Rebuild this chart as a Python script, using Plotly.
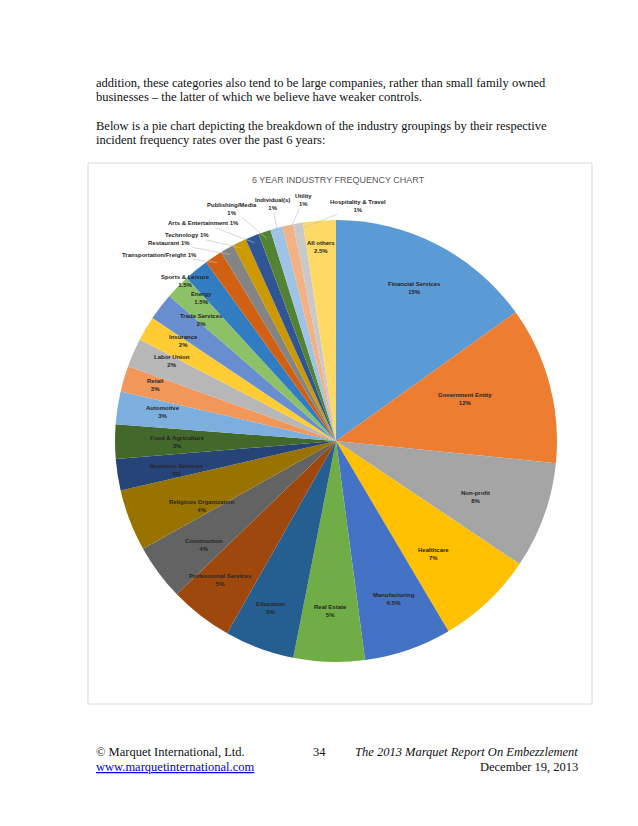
import math
import plotly.graph_objects as go

# ---------------- data ----------------
categories = [
    "Financial Services", "Government Entity", "Non-profit", "Healthcare",
    "Manufacturing", "Real Estate", "Education", "Professional Services",
    "Construction", "Religious Organization", "Business Services",
    "Food & Agriculture", "Automotive", "Retail", "Labor Union", "Insurance",
    "Trade Services", "Energy", "Sports & Leisure", "Transportation/Freight",
    "Restaurant", "Technology", "Arts & Entertainment", "Publishing/Media",
    "Individual(s)", "Utility", "Hospitality & Travel", "All others",
]
values = [
    15.1, 11.5, 7.8, 7.1, 6.4, 5.2, 5.1, 4.6, 4.1, 4.5,
    2.3, 2.5, 2.4, 1.9, 2.1, 1.8, 2.0, 1.8, 1.8, 1.3,
    1.0, 1.0, 1.0, 0.9, 0.9, 0.8, 0.7, 2.4,
]
pct_labels = [
    "15%", "12%", "8%", "7%", "6.5%", "5%", "5%", "5%", "4%", "4%",
    "3%", "3%", "3%", "3%", "2%", "2%", "2%", "1.5%", "1.5%", "1%",
    "1%", "1%", "1%", "1%", "1%", "1%", "1%", "2.5%",
]

# ---------------- style ----------------
colors = [
    "#5B9BD5", "#ED7D31", "#A5A5A5", "#FFC000", "#4472C4", "#70AD47",
    "#255E91", "#9E480E", "#636363", "#997300", "#264478", "#43682B",
    "#7CAFDD", "#F1975A", "#B7B7B7", "#FFCD33", "#698ED0", "#8CC168",
    "#327DC2", "#D26012", "#848484", "#CC9A00", "#2F5597", "#548235",
    "#9DC3E6", "#F4B183", "#C9C9C9", "#FFD966",
]
# label placement: ("in", radius fraction) or ("out", radius fraction, angle deg, leader line)
placement = [
    ("in", .78), ("in", .74), ("in", .75), ("in", .76), ("in", .80),
    ("in", .81), ("in", .85), ("in", .85), ("in", .86), ("in", .82),
    ("in", .86), ("in", .85), ("in", .88), ("in", .90), ("in", .91),
    ("in", .89), ("in", .90), ("in", .93),
    ("out", 1.11, 313.7, False), ("out", 1.16, 316.6, True),
    ("out", 1.17, 319.9, True), ("out", 1.15, 324.0, True),
    ("out", 1.155, 328.6, True), ("out", 1.15, 335.8, True),
    ("out", 1.11, 344.9, True), ("out", 1.10, 352.2, True),
    ("out", 1.07, 5.3, True), ("in", .92),
]
one_line = {"Transportation/Freight", "Restaurant", "Technology", "Arts & Entertainment"}

# page is drawn inside the browser's default 8px body margin
OFF = 8
W, H = 638 - 2 * OFF, 826 - 2 * OFF
PIE_L, PIE_R, PIE_T, PIE_B = 115, 557, 220, 662
cx, cy = (PIE_L + PIE_R) / 2, (PIE_T + PIE_B) / 2
R = (PIE_R - PIE_L) / 2


def px(x):
    return (x - OFF) / W


def py(y):
    return 1 - (y - OFF) / H


fig = go.Figure()
fig.add_trace(go.Pie(
    labels=categories, values=values, sort=False, direction="clockwise",
    rotation=0, textinfo="none", hoverinfo="label+percent",
    marker=dict(colors=colors, line=dict(width=0)),
    domain=dict(x=[px(PIE_L), px(PIE_R)], y=[py(PIE_B), py(PIE_T)]),
    showlegend=False,
))

annotations = []
label_font = dict(family="Liberation Sans", size=6, color="#262626", weight="bold")
total = sum(values)
cum = 0.0
for name, v, pct, pl in zip(categories, values, pct_labels, placement):
    mid = (cum + v / 2) / total * 360.0
    cum += v
    sep = " " if name in one_line else "<br>"
    text = f"{name}{sep}{pct}"
    if pl[0] == "in":
        r = pl[1] * R
        x = cx + r * math.sin(math.radians(mid))
        y = cy - r * math.cos(math.radians(mid))
        annotations.append(dict(x=px(x), y=py(y), xref="paper", yref="paper",
                                text=text, showarrow=False, font=label_font,
                                align="center"))
    else:
        _, rf, ang, leader = pl
        tx = cx + rf * R * math.sin(math.radians(ang))
        ty = cy - rf * R * math.cos(math.radians(ang))
        if leader:
            hx = cx + 0.97 * R * math.sin(math.radians(mid))
            hy = cy - 0.97 * R * math.cos(math.radians(mid))
            annotations.append(dict(x=px(hx), y=py(hy), xref="paper", yref="paper",
                                    ax=tx - hx, ay=ty - hy, axref="pixel", ayref="pixel",
                                    text=text, showarrow=True, arrowhead=0,
                                    arrowwidth=0.6, arrowcolor="#BFBFBF",
                                    standoff=0, font=label_font, align="center"))
        else:
            annotations.append(dict(x=px(tx), y=py(ty), xref="paper", yref="paper",
                                    text=text, showarrow=False, font=label_font,
                                    align="center"))

# chart title
annotations.append(dict(x=px(338), y=py(173), xref="paper", yref="paper",
                        text="6 YEAR INDUSTRY FREQUENCY CHART", showarrow=False,
                        font=dict(family="Liberation Sans", size=9, color="#595959")))

# page body text
serif = dict(family="Liberation Serif", size=12.5, color="#111111")
body_lines = [
    ("addition, these categories also tend to be large companies, rather than small family owned", 83),
    ("businesses \u2013 the latter of which we believe have weaker controls.", 97),
    ("Below is a pie chart depicting the breakdown of the industry groupings by their respective", 126),
    ("incident frequency rates over the past 6 years:", 140),
]
for t, yy in body_lines:
    annotations.append(dict(x=px(94), y=py(yy), xref="paper", yref="paper", text=t,
                            showarrow=False, xanchor="left", yanchor="middle", font=serif))

# footer
annotations += [
    dict(x=px(94), y=py(752), text="\u00a9 Marquet International, Ltd.", xanchor="left"),
    dict(x=px(94), y=py(767),
         text="<span style='text-decoration:underline'>www.marquetinternational.com</span>",
         xanchor="left", font=dict(family="Liberation Serif", size=12.5, color="#0000EE")),
    dict(x=px(319), y=py(752), text="34", xanchor="center"),
    dict(x=px(580), y=py(752), text="<i>The 2013 Marquet Report On Embezzlement</i>", xanchor="right"),
    dict(x=px(580), y=py(767), text="December 19, 2013", xanchor="right"),
]
for a in annotations[-5:]:
    a.update(xref="paper", yref="paper", showarrow=False, yanchor="middle")
    a.setdefault("font", serif)

fig.update_layout(
    width=W, height=H, margin=dict(l=0, r=0, t=0, b=0),
    paper_bgcolor="white", plot_bgcolor="white",
    annotations=annotations,
    shapes=[dict(type="rect", xref="paper", yref="paper",
                 x0=px(88), x1=px(592), y0=py(704), y1=py(163),
                 line=dict(color="#D9D9D9", width=1), fillcolor="rgba(0,0,0,0)",
                 layer="below")],
)

fig.write_html("out.html")
